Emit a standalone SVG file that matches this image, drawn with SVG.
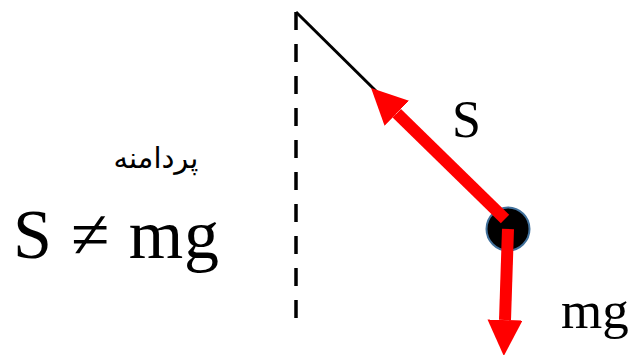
<svg xmlns="http://www.w3.org/2000/svg" width="633" height="355" viewBox="0 0 633 355">
<style>
.lbl{font-family:"Liberation Serif","Times New Roman",serif;fill:#000}
.force{stroke:#ff0000;stroke-width:12;fill:none}
</style>
<defs>
<marker id="ah" markerUnits="userSpaceOnUse" markerWidth="37" markerHeight="36" refX="0" refY="17.5" orient="auto">
<path d="M0,0 L36,17.5 L0,35 z" fill="#ff0000"/>
</marker>
</defs>
<rect width="633" height="355" fill="#fff"/>
<g id="wall">
<line x1="296" y1="12" x2="296" y2="318" stroke="#000" stroke-width="3.5" stroke-dasharray="18,14"/>
</g>
<g id="string">
<line x1="296" y1="12" x2="380" y2="95" stroke="#000" stroke-width="3"/>
</g>
<g id="bob">
<circle cx="508" cy="229" r="21.5" fill="#000" stroke="#41719c" stroke-width="2"/>
</g>
<g id="connectors">
<line class="force" x1="505" y1="219" x2="396.8" y2="113.2" marker-end="url(#ah)"/>
<line class="force" x1="508" y1="229" x2="505" y2="320" marker-end="url(#ah)"/>
</g>
<g id="labels">
<text class="lbl" x="452" y="137" font-size="52">S</text>
<text class="lbl" x="561" y="328" font-size="53">mg</text>
<text x="156" y="168" font-size="29" text-anchor="middle" direction="rtl" style="font-family:'DejaVu Sans',sans-serif">پردامنه</text>
<text class="lbl" x="13" y="258" font-size="70" textLength="206">S ≠ mg</text>
</g>
</svg>
